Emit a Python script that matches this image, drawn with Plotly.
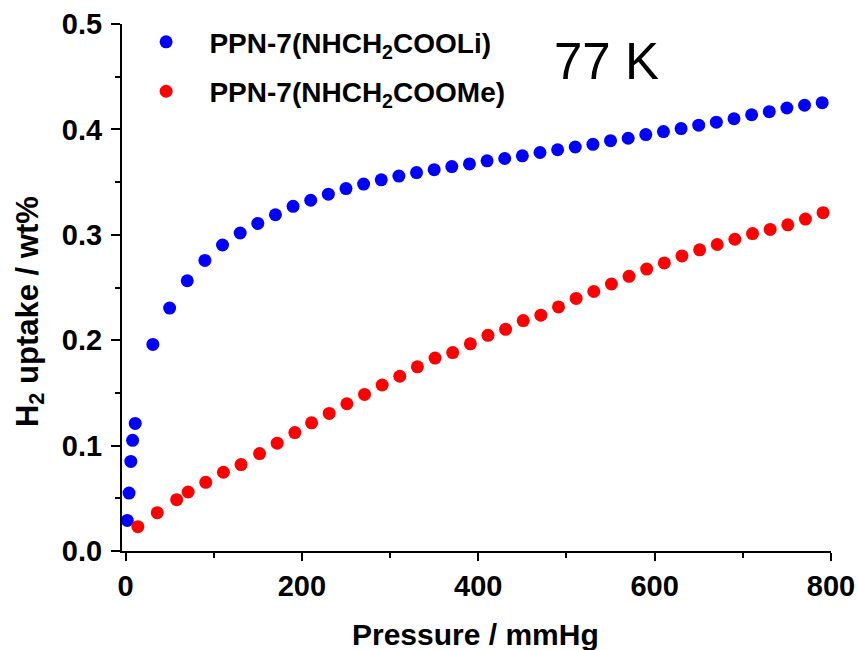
import plotly.graph_objects as go

# ---- data ----
li_pressure = [2, 4, 6, 8, 11, 31, 50, 70, 90, 110, 130, 150, 170, 190,
               210, 230, 250, 270, 290, 310, 330, 350, 370, 390, 410, 430, 450,
               470, 490, 510, 530, 550, 570, 590, 610, 630, 650, 670, 690, 710,
               730, 750, 770, 790]
li_uptake = [0.029, 0.055, 0.085, 0.105, 0.121, 0.196, 0.2305, 0.2564, 0.2757,
             0.2903, 0.3017, 0.3108, 0.319, 0.327,
             0.3328, 0.3385, 0.3439, 0.3481, 0.3522, 0.3557, 0.3590, 0.3618,
             0.3647, 0.3672, 0.3702, 0.3724, 0.3749, 0.3781, 0.3807, 0.3833,
             0.3858, 0.3893, 0.3916, 0.3951, 0.3979, 0.4008, 0.4040, 0.4069,
             0.4101, 0.4139, 0.4168, 0.4203, 0.4229, 0.4254]

me_pressure = [14, 36, 58, 71, 91, 111, 131, 152, 172, 192,
               211, 231, 251, 271, 291, 311, 331, 351, 371, 391, 411, 431, 451,
               471, 491, 511, 531, 551, 571, 591, 611, 631, 651, 671, 691, 711,
               731, 751, 771, 791]
me_uptake = [0.0231, 0.0364, 0.0487, 0.056, 0.0652, 0.0747, 0.082, 0.0924,
             0.1023, 0.1124,
             0.1216, 0.1305, 0.1397, 0.1486, 0.1575, 0.1658, 0.1747, 0.1830,
             0.1883, 0.1966, 0.2046, 0.2103, 0.2186, 0.2237, 0.2316, 0.2396,
             0.2462, 0.2533, 0.2606, 0.2675, 0.2733, 0.2800, 0.2857, 0.2908,
             0.2958, 0.3012, 0.3051, 0.3095, 0.3149, 0.3210]

li_name = "\u00a0\u00a0\u00a0PPN-7(NHCH<sub>2</sub>COOLi)"
me_name = "\u00a0\u00a0\u00a0PPN-7(NHCH<sub>2</sub>COOMe)"
x_ticks = [0, 200, 400, 600, 800]
y_ticks = [0.0, 0.1, 0.2, 0.3, 0.4, 0.5]

FONT = "Liberation Sans, Arial, sans-serif"

fig = go.Figure()
fig.add_trace(go.Scatter(x=li_pressure, y=li_uptake, mode="markers", name=li_name,
                         legendgroup="a",
                         marker=dict(color="#0000FF", size=13), cliponaxis=False))
fig.add_trace(go.Scatter(x=me_pressure, y=me_uptake, mode="markers", name=me_name,
                         legendgroup="b",
                         marker=dict(color="#FF0000", size=13), cliponaxis=False))

axis_common = dict(showline=True, linecolor="black", linewidth=2, ticks="outside",
                   tickwidth=2, tickcolor="black", showgrid=False, zeroline=False,
                   automargin=False,
                   tickfont=dict(family=FONT, size=29, color="black", weight="bold"))

fig.update_xaxes(range=[-4, 800], tickvals=x_ticks, ticklen=8,
                 minor=dict(dtick=100, ticklen=5, tickwidth=2, tickcolor="black", ticks="outside"),
                 ticklabelstandoff=0, **axis_common)
fig.update_yaxes(range=[0, 0.5], tickvals=y_ticks, tickformat=".1f", ticklen=9,
                 minor=dict(dtick=0.05, ticklen=5, tickwidth=2, tickcolor="black", ticks="outside"),
                 ticklabelstandoff=3, **axis_common)

fig.add_annotation(text="Pressure / mmHg", xref="paper", yref="paper", x=0.4986, y=-0.159,
                   showarrow=False, xanchor="center", yanchor="middle",
                   font=dict(family=FONT, size=30, color="black", weight="bold"))
fig.add_annotation(text="H<sub>2</sub> uptake / wt%", xref="paper", yref="paper", x=-0.13, y=0.455,
                   showarrow=False, textangle=-90, xanchor="center", yanchor="middle",
                   font=dict(family=FONT, size=31, color="black", weight="bold"))
fig.add_annotation(text="77 K", xref="paper", yref="paper", x=0.683, y=0.928,
                   showarrow=False, xanchor="center", yanchor="middle",
                   font=dict(family=FONT, size=51, color="black"))

fig.update_layout(
    width=858, height=650,
    margin=dict(l=122, r=27, t=24, b=99, autoexpand=False),
    plot_bgcolor="white", paper_bgcolor="white",
    showlegend=True,
    legend=dict(x=0.034, y=1.013, xanchor="left", yanchor="top",
                bgcolor="rgba(0,0,0,0)", traceorder="grouped", tracegroupgap=10,
                font=dict(family=FONT, size=28, color="black", weight="bold")),
)

fig.write_html("out.html")
